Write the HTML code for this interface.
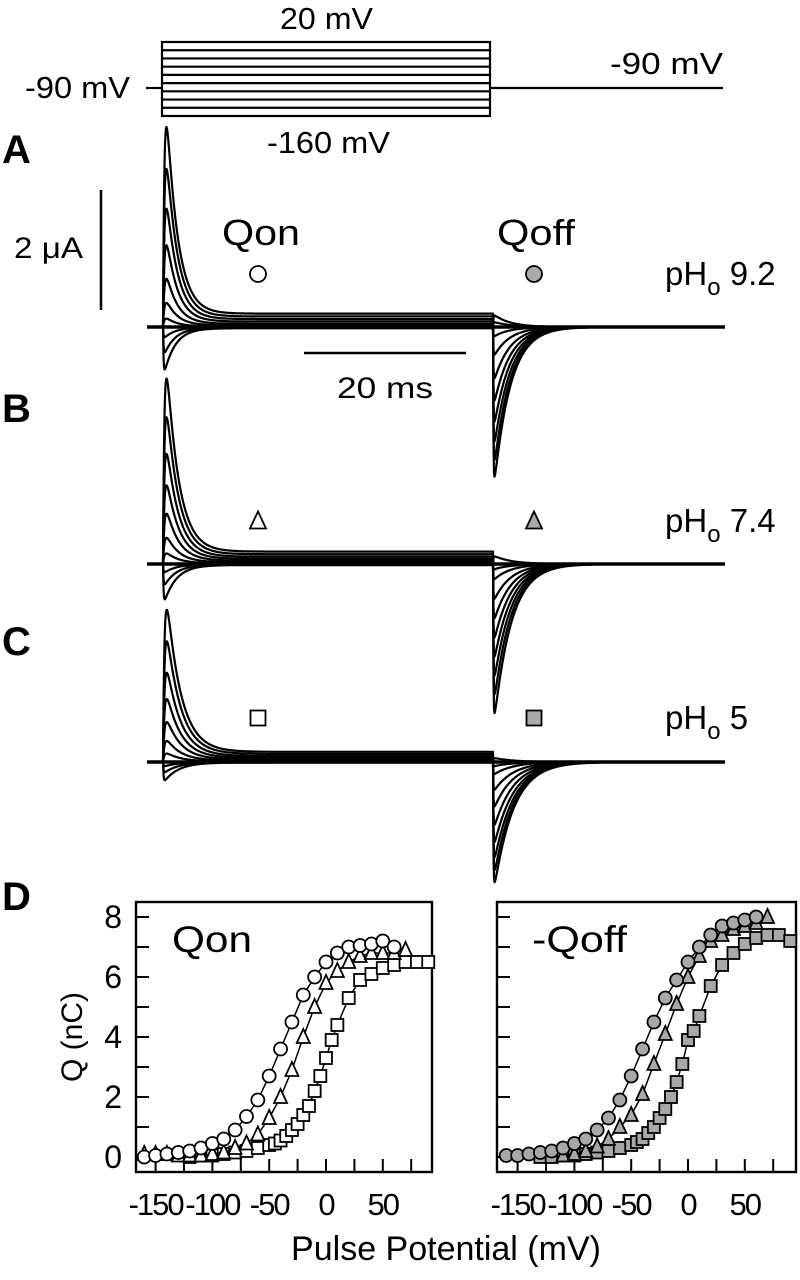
<!DOCTYPE html>
<html><head><meta charset="utf-8"><style>
html,body{margin:0;padding:0;background:#fff;}
svg{display:block;font-family:"Liberation Sans",sans-serif;}
</style></head><body>
<svg id="fig" width="800" height="1280" viewBox="0 0 800 1280" xmlns="http://www.w3.org/2000/svg">
<g stroke="#000" stroke-width="2.2" fill="none" id="proto"></g>
<text x="280" y="29" font-size="31" textLength="93" lengthAdjust="spacingAndGlyphs">20 mV</text>
<text x="267" y="153" font-size="31" textLength="123" lengthAdjust="spacingAndGlyphs">-160 mV</text>
<text x="610" y="74" font-size="31" textLength="113" lengthAdjust="spacingAndGlyphs">-90 mV</text>
<text x="25" y="98" font-size="31" textLength="105" lengthAdjust="spacingAndGlyphs">-90 mV</text>

<text x="2" y="163" font-size="40" font-weight="bold">A</text>
<text x="2" y="422" font-size="40" font-weight="bold">B</text>
<text x="2" y="655" font-size="40" font-weight="bold">C</text>
<text x="2" y="910" font-size="40" font-weight="bold">D</text>

<line x1="101" y1="190" x2="101" y2="310" stroke="#000" stroke-width="2.5"/>
<text x="14" y="258" font-size="30" textLength="69" lengthAdjust="spacingAndGlyphs">2 μA</text>
<line x1="304" y1="353" x2="466" y2="353" stroke="#000" stroke-width="2.5"/>
<text x="337" y="398" font-size="30" textLength="96" lengthAdjust="spacingAndGlyphs">20 ms</text>

<text x="222" y="245" font-size="36" textLength="78" lengthAdjust="spacingAndGlyphs">Qon</text>
<text x="497" y="245" font-size="36" textLength="78" lengthAdjust="spacingAndGlyphs">Qoff</text>

<g id="traces"></g>
<g id="labels"></g>

<g id="plotD"></g>
<text transform="translate(82,1037) rotate(-90)" font-size="30" text-anchor="middle">Q (nC)</text>
<text x="446" y="1260" font-size="34" text-anchor="middle">Pulse Potential (mV)</text>
</svg>
<script>
// ---- Panel A-C trace data (amplitudes in px of current) ----
const panelBase = [327, 564, 762];
const onAmpA = [191,151,113,78,46,23,8,-10,-25,-42];
const offAmpA = [-156,-138,-118,-97,-75,-52,-28,-9,5,12];
const onAmpB = [177,140,105,75,48,25,10,-8,-20,-35];
const offAmpB = [-155,-135,-115,-95,-75,-55,-35,-15,-5,8];
const onAmpC = [145,115,85,60,38,20,8,-4,-10,-18];
const offAmpC = [-125,-112,-98,-82,-64,-45,-28,-12,-4,4];
// ---- Panel D data (mV, nC) ----
const vCircOn = [-160,-150,-140,-130,-120,-110,-100,-90,-80,-70,-60,-50,-40,-30,-20,-10,0,10,20,30,40,50,60];
const qCircOn = [0,0.05,0.1,0.15,0.2,0.3,0.45,0.6,0.9,1.35,1.9,2.7,3.6,4.5,5.4,6.0,6.5,6.8,7.0,7.05,7.1,7.2,7.0];
const vTriOn = [-160,-150,-140,-130,-120,-110,-100,-90,-80,-70,-60,-50,-40,-30,-20,-10,0,10,20,30,40,50,60,70];
const qTriOn = [0.1,0.1,0.1,0.05,0.05,0.05,0.1,0.15,0.3,0.45,0.75,1.3,2.0,2.9,4.0,5.0,5.8,6.2,6.5,6.7,6.8,6.8,6.8,6.9];
const vSqOn = [-120,-110,-100,-90,-80,-70,-60,-50,-45,-40,-35,-30,-25,-20,-15,-10,-5,0,5,10,20,30,40,50,60,70,80,90];
const qSqOn = [0,0.05,0.05,0.1,0.15,0.2,0.3,0.4,0.45,0.55,0.7,0.9,1.1,1.4,1.7,2.2,2.7,3.3,3.9,4.4,5.3,5.9,6.1,6.3,6.4,6.5,6.5,6.5];
const vCircOff = [-160,-150,-140,-130,-120,-110,-100,-90,-80,-70,-60,-50,-40,-30,-20,-10,0,10,20,30,40,50,60];
const qCircOff = [0.05,0.05,0.1,0.15,0.2,0.3,0.45,0.6,0.9,1.3,1.9,2.7,3.6,4.5,5.3,5.9,6.5,7.0,7.4,7.7,7.8,7.9,8.0];
const vTriOff = [-110,-100,-90,-80,-70,-60,-50,-40,-30,-20,-10,0,10,20,30,40,50,60,70];
const qTriOff = [0.05,0.1,0.2,0.35,0.6,1.0,1.4,2.1,3.1,4.1,5.1,6.0,6.7,7.2,7.4,7.6,7.7,7.8,8.0];
const vSqOff = [-130,-120,-110,-100,-90,-80,-70,-60,-50,-45,-40,-35,-30,-25,-20,-15,-10,-5,0,5,10,20,30,40,50,60,70,80,90];
const qSqOff = [0,0,0.05,0.05,0.1,0.15,0.2,0.3,0.4,0.5,0.6,0.8,1.0,1.3,1.6,2.0,2.5,3.1,3.9,4.2,4.7,5.7,6.4,6.8,7.1,7.3,7.4,7.4,7.2];
const xTicks = [-150,-100,-50,0,50];
const yTicks = [0,2,4,6,8];

const NS="http://www.w3.org/2000/svg";
function mk(tag, attrs, parent){const e=document.createElementNS(NS,tag);for(const k in attrs)e.setAttribute(k,attrs[k]);parent.appendChild(e);return e;}

// protocol
const proto=document.getElementById('proto');
const pTop=42,pBot=116,pL=162,pR=490;
const pl1=mk('line',{x1:146,y1:88,x2:pL,y2:88},proto);


const pl2=mk('line',{x1:pR,y1:88,x2:723,y2:88},proto);


const pbox=mk('rect',{x:pL,y:pTop,width:pR-pL,height:pBot-pTop},proto);


for(let i=1;i<9;i++){const y=pTop+(pBot-pTop)*i/9;const l=mk('line',{x1:pL,y1:y,x2:pR,y2:y},proto);

}

// traces
const traces=document.getElementById('traces');
const tOn=163, tOff=493, tEnd=725, tStart=147;
function shape(t,rise,tau){
  if(t<=0) return 0;
  const f=u=> (1-Math.exp(-u/(rise/2.2)))*Math.exp(-u/tau);
  let m=0;for(let u=0.25;u<40;u+=0.25)m=Math.max(m,f(u));
  return f(t)/m;
}
function tracePath(base, on, off, tau1, tau2){
  const plat = on>0 ? on*0.07 : on*0.03;
  let d=`M${tStart},${base} L${tOn},${base}`;
  const r1 = on>0 ? 3.5 : 1.2, r2 = 0.8;
  for(let x=tOn+0.5;x<=tOff;x+=0.5){
    let v=on*shape(x-tOn,r1,tau1);
    v+=plat*(1-Math.exp(-(x-tOn)/3));
    d+=` L${x},${(base-v).toFixed(1)}`;
  }
  for(let x=tOff+0.5;x<=tEnd;x+=0.5){
    let v=off*shape(x-tOff,r2,tau2);
    v+=plat*Math.exp(-(x-tOff)/2);
    d+=` L${x},${(base-v).toFixed(1)}`;
  }
  return d;
}
const sets=[[onAmpA,offAmpA,11,16],[onAmpB,offAmpB,12,17],[onAmpC,offAmpC,14,19]];
sets.forEach((s,pi)=>{
  const base=panelBase[pi];
  s[0].forEach((a,i)=>{
    const p=mk('path',{d:tracePath(base,a,s[1][i],s[2],s[3]),fill:'none',stroke:'#000','stroke-width':2.2,'stroke-linejoin':'round'},traces);
    
    
  });
  const bl=mk('line',{x1:tStart,y1:base,x2:tEnd,y2:base,stroke:'#000','stroke-width':3.5},traces);
  
  
});

// markers near traces & pH labels
const labels=document.getElementById('labels');
function marker(shape,cx,cy,fill,parent,r){
  r=r||6.5;let e;
  if(shape==='c') e=mk('circle',{cx:cx,cy:cy,r:r},parent);
  else if(shape==='s') e=mk('rect',{x:cx-r+0.5,y:cy-r+0.5,width:2*r-1,height:2*r-1},parent);
  else e=mk('polygon',{points:`${cx},${cy-r-1.5} ${cx-r},${cy+r-0.5} ${cx+r},${cy+r-0.5}`},parent);
  e.setAttribute('fill',fill);e.setAttribute('stroke','#000');e.setAttribute('stroke-width',1.8);
  return e;
}
const markerY=[274,521,718], shapes=['c','t','s'], phTxt=['9.2','7.4','5'];
markerY.forEach((y,i)=>{
  const m1=marker(shapes[i],258,y,'#fff',labels,8);
  
  
  const m2=marker(shapes[i],534,y,'#aaa',labels,8);
  
  
  const t=mk('text',{x:665,y:y+11,'font-size':33},labels);
  
  
  t.innerHTML=`pH<tspan dy="10" font-size="24">o</tspan><tspan dy="-10"> ${phTxt[i]}</tspan>`;
});

// panel D
const plotD=document.getElementById('plotD');
const boxTop=902, boxBot=1172;
function yS(q){return 1157-q*30;}
const panels=[{l:136,r:432,x0:326,title:'Qon',tx:172,fill:'#fff',
  series:[[vSqOn,qSqOn,'s'],[vTriOn,qTriOn,'t'],[vCircOn,qCircOn,'c']]},
  {l:497,r:796,x0:688,title:'-Qoff',tx:532,fill:'#a8a8a8',
  series:[[vSqOff,qSqOff,'s'],[vTriOff,qTriOff,'t'],[vCircOff,qCircOff,'c']]}];
panels.forEach((p,pi)=>{
  const g=mk('g',{},plotD);
  
  
  const xS=v=>p.x0+v*56.8/50;
  const box=mk('rect',{x:p.l,y:boxTop,width:p.r-p.l,height:boxBot-boxTop,fill:'none',stroke:'#000','stroke-width':2.4},g);
  
  
  for(let v=-150;v<=75;v+=25){const x=xS(v);const t=mk('line',{x1:x,y1:boxBot,x2:x,y2:boxBot-13,stroke:'#000','stroke-width':2},g);
    
    }
  for(let q=0;q<=8;q++){const y=yS(q);const t=mk('line',{x1:p.l,y1:y,x2:p.l+13,y2:y,stroke:'#000','stroke-width':2},g);
    
    }
  xTicks.forEach(v=>{const t=mk('text',{x:xS(v),y:1215,'font-size':31,'text-anchor':'middle','letter-spacing':'-2'},g);t.textContent=String(v);
    
    });
  if(pi===0) yTicks.forEach(q=>{const t=mk('text',{x:122,y:yS(q)+11,'font-size':32,'text-anchor':'end'},g);t.textContent=String(q);
    
    });
  const tt=mk('text',{x:p.tx,y:952,'font-size':37,textLength:pi===0?80:95,lengthAdjust:'spacingAndGlyphs'},g);tt.textContent=p.title;
  
  
  p.series.forEach(s=>{
    const sg=mk('g',{},g);
    
    
    const pts=s[0].map((v,i)=>`${xS(v).toFixed(1)},${yS(s[1][i]).toFixed(1)}`).join(' ');
    const ln=mk('polyline',{points:pts,fill:'none',stroke:'#000','stroke-width':1.5},sg);
    
    
    s[0].forEach((v,i)=>{const m=marker(s[2],xS(v),yS(s[1][i]),p.fill,sg,6.5);
      
      });
  });
});
</script>
</body></html>
